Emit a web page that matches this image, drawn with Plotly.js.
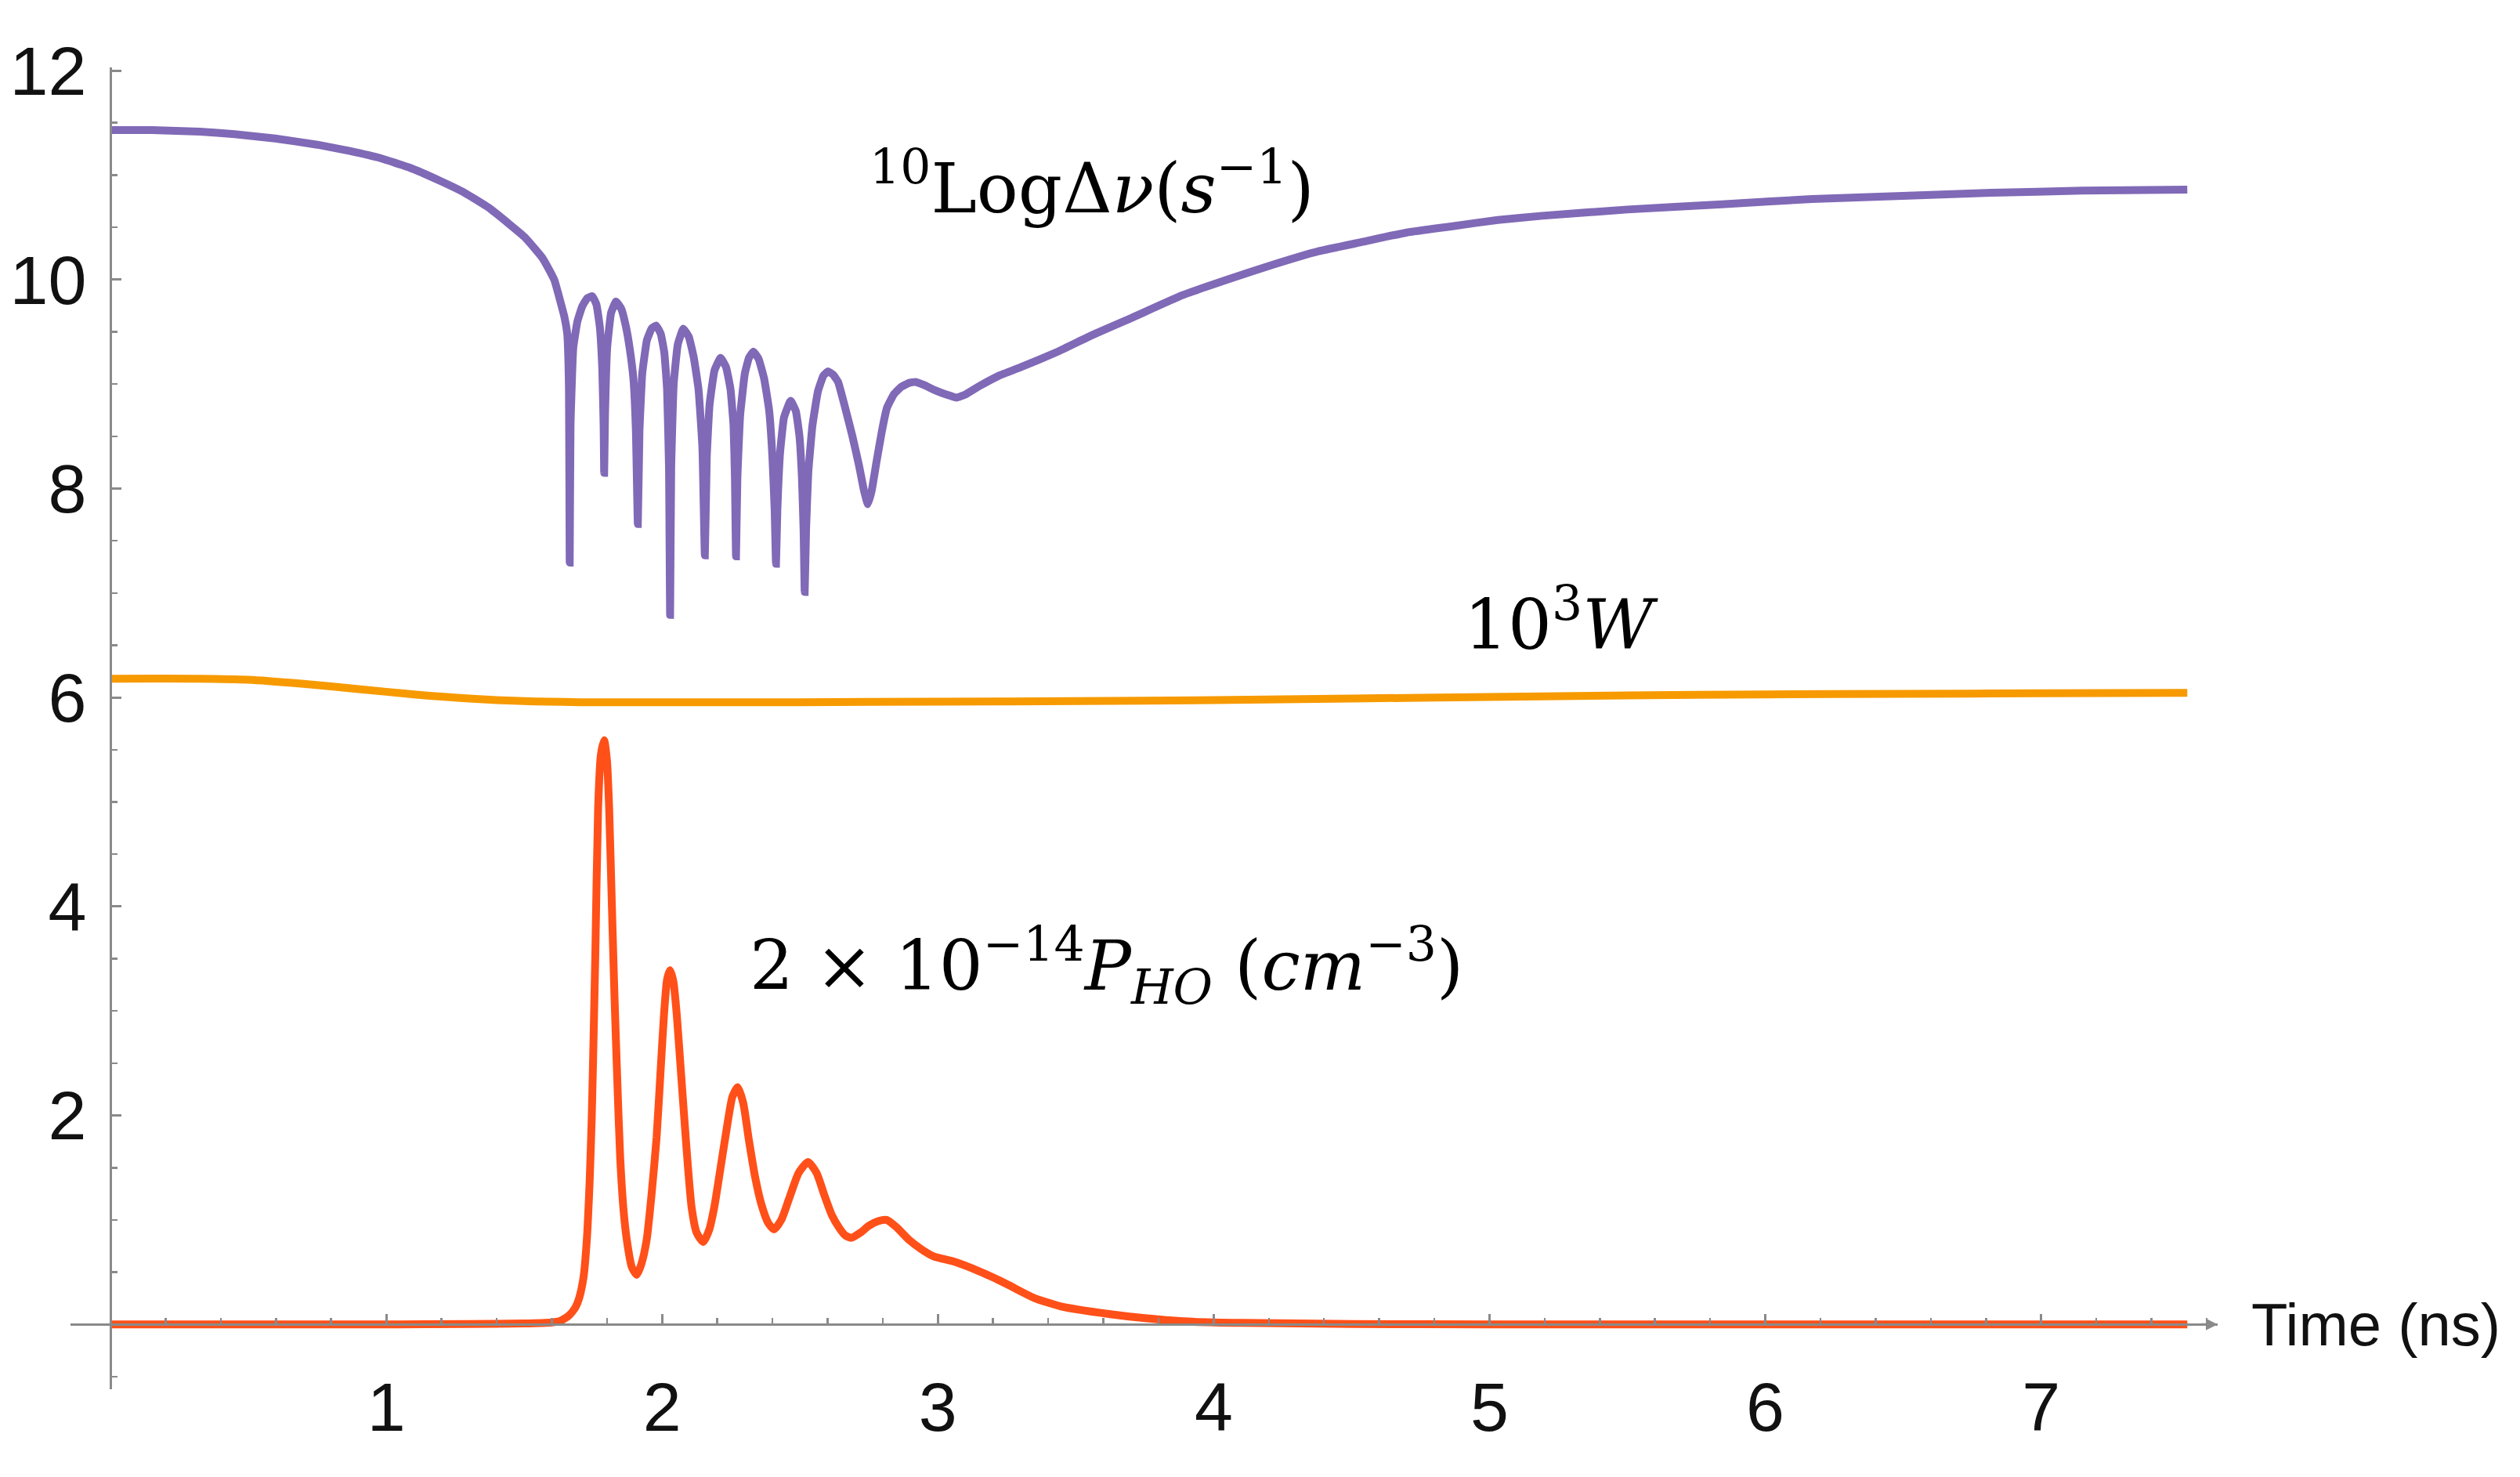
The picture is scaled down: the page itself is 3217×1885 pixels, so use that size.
<!DOCTYPE html>
<html>
<head>
<meta charset="utf-8">
<script src="https://cdn.plot.ly/plotly-3.0.1.min.js"></script>
<style>html,body{margin:0;padding:0;background:#fff;}#chart{width:3217px;height:1885px;}</style>
</head>
<body>
<div id="chart"></div>
<script>
// ---- Data ----
const timeLogDv = [0,0.15,0.324,0.45,0.597,0.75,0.867,0.98,1.085,1.19,1.284,1.37,1.446,1.5,1.537,1.565,1.591,1.61,1.628,1.645,1.656,1.662,1.665,1.668,1.678,1.693,1.71,1.728,1.747,1.762,1.774,1.783,1.788,1.79,1.793,1.801,1.815,1.833,1.852,1.868,1.882,1.896,1.905,1.912,1.918,1.928,1.945,1.962,1.978,1.995,2.008,2.018,2.025,2.029,2.033,2.042,2.057,2.077,2.097,2.115,2.132,2.146,2.155,2.162,2.172,2.19,2.212,2.232,2.248,2.259,2.264,2.268,2.273,2.283,2.3,2.315,2.331,2.35,2.37,2.388,2.4,2.408,2.413,2.418,2.428,2.442,2.466,2.485,2.498,2.507,2.513,2.517,2.522,2.53,2.545,2.565,2.585,2.602,2.62,2.638,2.664,2.69,2.714,2.732,2.746,2.76,2.777,2.797,2.815,2.84,2.866,2.895,2.918,2.95,2.99,3.03,3.068,3.1,3.15,3.222,3.3,3.435,3.561,3.7,3.887,4.05,4.213,4.38,4.54,4.7,4.866,5.03,5.192,5.5,5.843,6.17,6.497,6.82,7.149,7.53];
const logDv = [11.43,11.43,11.415,11.39,11.35,11.29,11.23,11.16,11.07,10.95,10.83,10.69,10.53,10.41,10.3,10.21,10.09,9.99,9.82,9.65,9.48,9.0,7.29,8.6,9.35,9.6,9.74,9.82,9.84,9.76,9.55,9.15,8.6,8.15,8.7,9.35,9.68,9.79,9.72,9.56,9.35,9.05,8.55,7.66,8.55,9.1,9.42,9.53,9.56,9.48,9.3,8.95,8.2,6.79,8.2,9.0,9.38,9.53,9.45,9.25,8.95,8.4,7.36,8.3,8.8,9.13,9.25,9.16,8.95,8.6,8.1,7.35,8.1,8.7,9.1,9.25,9.31,9.24,9.05,8.75,8.3,7.8,7.28,7.8,8.35,8.68,8.84,8.74,8.5,8.1,7.6,7.01,7.6,8.15,8.6,8.93,9.08,9.12,9.09,9.02,8.77,8.5,8.22,7.98,7.85,7.98,8.25,8.55,8.77,8.9,8.97,9.01,9.02,8.99,8.94,8.9,8.87,8.9,8.98,9.08,9.16,9.31,9.47,9.63,9.85,10.0,10.14,10.27,10.36,10.45,10.51,10.57,10.61,10.67,10.72,10.77,10.8,10.83,10.85,10.86];

const timeW = [0,0.3,0.5,0.7,0.9,1.1,1.3,1.5,1.7,2.0,2.5,3.0,3.5,4.0,4.5,5.0,5.5,6.0,6.5,7.0,7.53];
const w1000 = [6.18,6.18,6.17,6.13,6.08,6.03,5.99,5.965,5.955,5.955,5.955,5.96,5.965,5.975,5.99,6.005,6.02,6.03,6.035,6.04,6.045];

const timePHO = [0,0.5,1.0,1.3,1.5,1.6,1.627,1.66,1.685,1.699,1.715,1.727,1.737,1.745,1.752,1.758,1.768,1.778,1.79,1.8,1.808,1.818,1.827,1.838,1.848,1.86,1.872,1.89,1.908,1.925,1.944,1.962,1.98,1.995,2.007,2.018,2.029,2.041,2.053,2.066,2.08,2.094,2.107,2.125,2.149,2.17,2.189,2.212,2.234,2.255,2.274,2.294,2.315,2.338,2.361,2.385,2.406,2.432,2.46,2.495,2.529,2.56,2.588,2.615,2.642,2.665,2.687,2.72,2.75,2.785,2.814,2.85,2.895,2.94,2.986,3.06,3.149,3.2,3.258,3.348,3.45,3.62,3.75,3.89,4.1,4.5,5.0,6.0,7.0,7.53];
const pHO = [0,0,0,0.005,0.01,0.02,0.03,0.08,0.16,0.25,0.45,0.81,1.35,1.99,2.8,3.56,4.94,5.45,5.59,5.4,4.94,4.0,3.17,2.3,1.6,1.1,0.81,0.55,0.475,0.58,0.81,1.25,1.79,2.45,2.97,3.3,3.39,3.28,2.97,2.5,1.99,1.5,1.12,0.88,0.79,0.9,1.12,1.5,1.87,2.18,2.27,2.12,1.76,1.4,1.14,0.97,0.91,1.0,1.2,1.45,1.555,1.45,1.24,1.05,0.925,0.85,0.83,0.88,0.945,0.99,1.0,0.93,0.81,0.72,0.65,0.6,0.51,0.45,0.375,0.255,0.17,0.1,0.06,0.03,0.015,0.005,0,0,0,0];

const xTickVals = [1,2,3,4,5,6,7];
const yTickVals = [2,4,6,8,10,12];
const xLabel = 'Time (ns)';
const labelLogDv = '<sup>10</sup>LogΔ<i>ν</i>(<i>s</i><sup>−1</sup>)';
const labelW = '10<sup>3</sup><i>W</i>';
const labelPHO = '2 × 10<sup>−14</sup><i>P</i><sub><i>HO</i></sub> (<i>cm</i><sup>−3</sup>)';

// ---- Plot ----
const xRange = [-0.145, 7.64];
const yRange = [-0.62, 12.03];
const axisGray = '#8a8a8a';
const tickFont = {family: 'Liberation Sans, Arial, sans-serif', size: 88, color: '#111'};
const mathFont = {family: 'DejaVu Serif, serif', size: 88, color: '#000'};
const xPaper = v => (v - xRange[0]) / (xRange[1] - xRange[0]);

const traces = [
  {x: timeLogDv, y: logDv, mode: 'lines', line: {color: '#8069b6', width: 10, shape: 'spline', smoothing: 0.35}, hoverinfo: 'skip'},
  {x: timeW, y: w1000, mode: 'lines', line: {color: '#f79a00', width: 10, shape: 'spline', smoothing: 0.8}, hoverinfo: 'skip'},
  {x: timePHO, y: pHO, mode: 'lines', line: {color: '#ff5019', width: 10, shape: 'spline', smoothing: 0.6}, hoverinfo: 'skip'}
];

const layout = {
  width: 3217, height: 1885,
  paper_bgcolor: '#fff', plot_bgcolor: '#fff',
  showlegend: false,
  margin: {l: 90, r: 386, t: 86, b: 112},
  xaxis: {
    range: xRange, anchor: 'free', position: (0 - yRange[0]) / (yRange[1] - yRange[0]),
    showgrid: false, zeroline: false, showline: true, linecolor: axisGray, linewidth: 3,
    tickmode: 'array', tickvals: xTickVals, ticks: 'inside', ticklen: 12, tickwidth: 3, tickcolor: axisGray,
    minor: {tickmode: 'linear', tick0: 0, dtick: 0.2, ticks: 'inside', ticklen: 7, tickwidth: 2.5, tickcolor: axisGray, showgrid: false},
    tickfont: tickFont, ticklabelstandoff: 28
  },
  yaxis: {
    range: yRange, anchor: 'free', position: xPaper(0),
    showgrid: false, zeroline: false, showline: true, linecolor: axisGray, linewidth: 3,
    tickmode: 'array', tickvals: yTickVals, ticks: 'inside', ticklen: 12, tickwidth: 3, tickcolor: axisGray,
    minor: {tickmode: 'linear', tick0: 0, dtick: 0.5, ticks: 'inside', ticklen: 7, tickwidth: 2.5, tickcolor: axisGray, showgrid: false},
    tickfont: tickFont, ticklabelstandoff: 12
  },
  annotations: [
    {text: labelLogDv, xref: 'x', yref: 'y', x: 3.56, y: 10.92, xanchor: 'center', yanchor: 'middle', showarrow: false, font: mathFont},
    {text: labelW, xref: 'x', yref: 'y', x: 5.261, y: 6.74, xanchor: 'center', yanchor: 'middle', showarrow: false, font: mathFont},
    {text: labelPHO, xref: 'x', yref: 'y', x: 3.61, y: 3.43, xanchor: 'center', yanchor: 'middle', showarrow: false, font: mathFont},
    {text: xLabel, xref: 'paper', yref: 'y', x: xPaper(7.756), y: 0, xanchor: 'left', yanchor: 'middle', showarrow: false,
     font: {family: 'Liberation Sans, Arial, sans-serif', size: 76, color: '#111'}},
    {text: '', xref: 'paper', yref: 'y', x: 1, y: 0, axref: 'pixel', ayref: 'pixel', ax: -22, ay: 0,
     showarrow: true, arrowhead: 2, arrowsize: 1, arrowwidth: 3, arrowcolor: axisGray, standoff: 0}
  ]
};

Plotly.newPlot('chart', traces, layout, {staticPlot: true, displayModeBar: false});
</script>
</body>
</html>
